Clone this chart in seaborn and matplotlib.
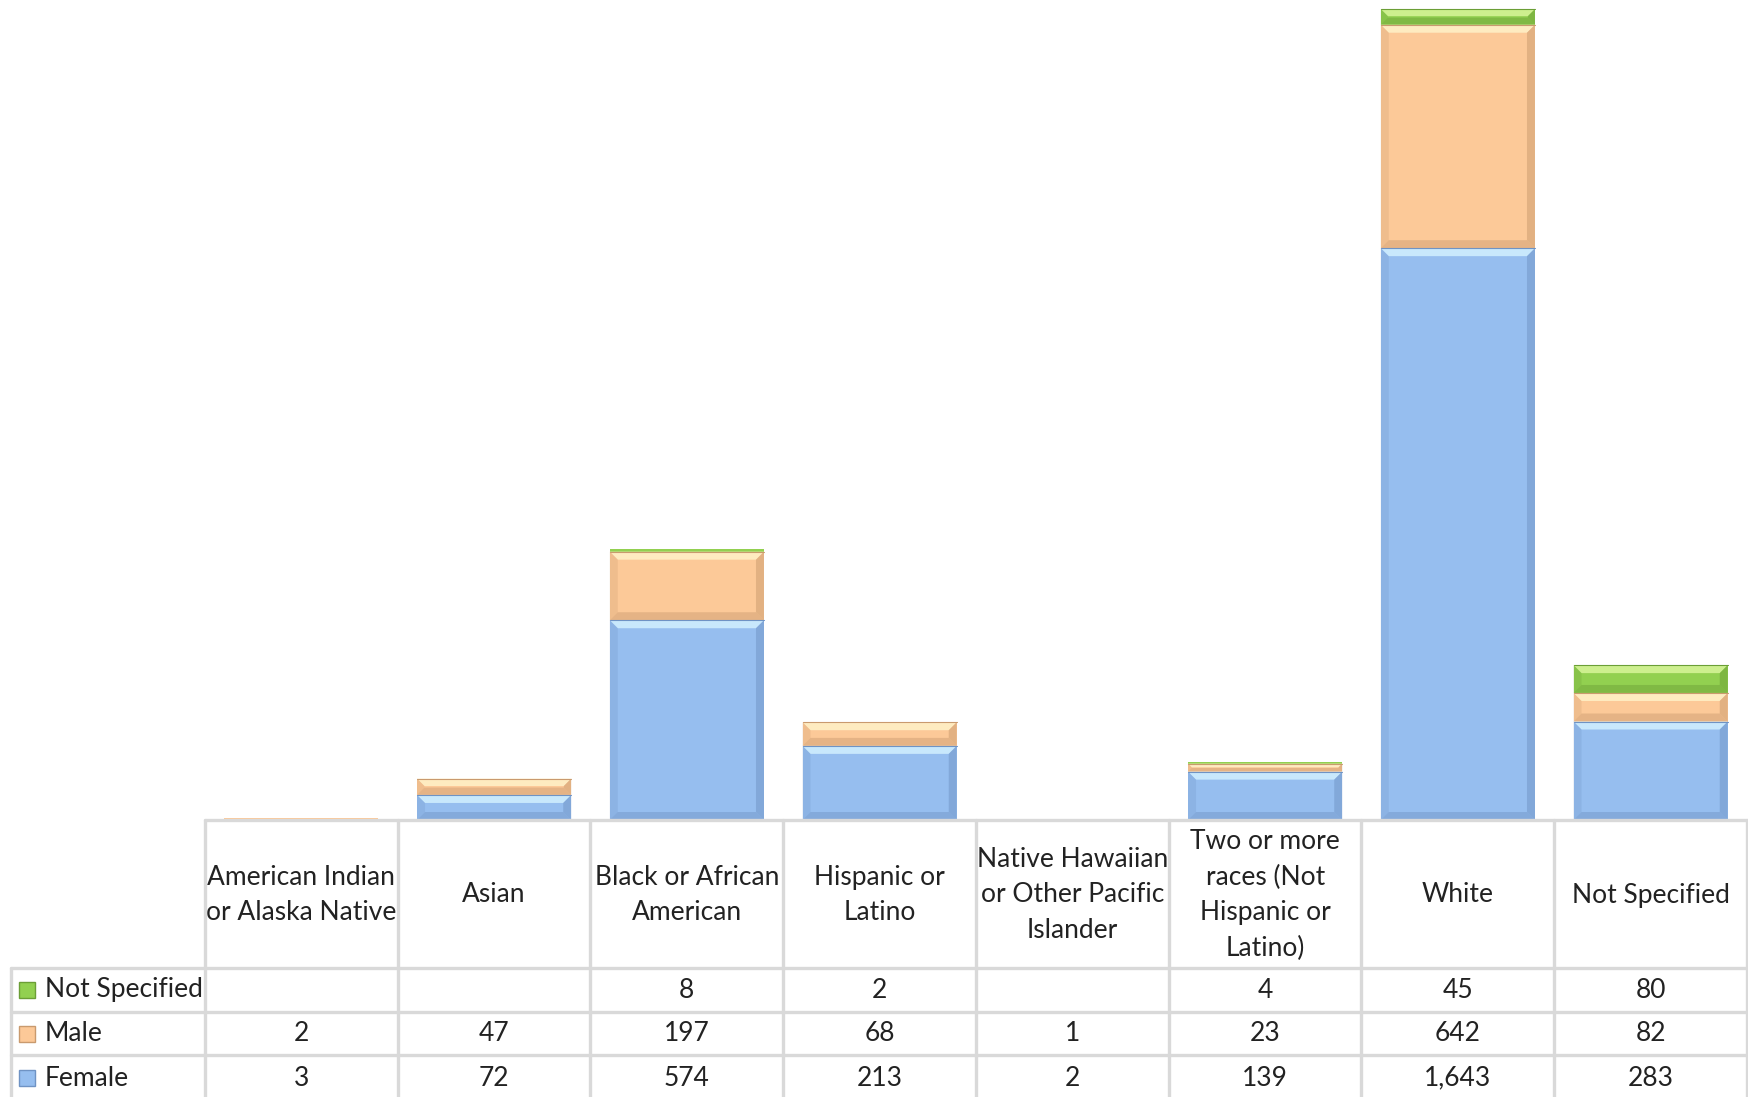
import numpy as np
import pandas as pd
import matplotlib
matplotlib.use("Agg")
import matplotlib.pyplot as plt
from matplotlib.patches import Polygon
import seaborn as sns

# ---- data -------------------------------------------------------------
categories = [
    "American Indian\nor Alaska Native",
    "Asian",
    "Black or African\nAmerican",
    "Hispanic or\nLatino",
    "Native Hawaiian\nor Other Pacific\nIslander",
    "Two or more\nraces (Not\nHispanic or\nLatino)",
    "White",
    "Not Specified",
]
female = [3, 72, 574, 213, 2, 139, 1643, 283]
male = [2, 47, 197, 68, 1, 23, 642, 82]
not_specified = [None, None, 8, 2, None, 4, 45, 80]

series_names = ["Not Specified", "Male", "Female"]
series_colors = {"Female": "#96BEEF", "Male": "#FCC998", "Not Specified": "#92D050"}
highlight = {"Female": "#D2F0FF", "Male": "#FFF2C8", "Not Specified": "#D8F59A"}
shade = {"Female": "#6F93C4", "Male": "#C99A6E", "Not Specified": "#6B9E36"}

# ---- figure -----------------------------------------------------------
W, H = 1749, 1097
sns.set_theme(style="white")
plt.rcParams["font.family"] = ["Lato", "DejaVu Sans"]
fig = plt.figure(figsize=(W / 100, H / 100), dpi=100)
fig.patch.set_facecolor("white")

left_px, right_px, base_px = 205, 1747, 820
ax = fig.add_axes([left_px / W, 1 - base_px / H, (right_px - left_px) / W, base_px / H])

df = pd.DataFrame({
    "category": categories,
    "Female": female,
    "Male": male,
    "Not Specified": [0 if v is None else v for v in not_specified],
})
df["cum_female"] = df["Female"]
df["cum_male"] = df["Female"] + df["Male"]
df["cum_total"] = df["cum_male"] + df["Not Specified"]

bar_w = 0.80
layers = [("cum_total", "Not Specified"), ("cum_male", "Male"), ("cum_female", "Female")]
for col, name in layers:
    sns.barplot(data=df, x="category", y=col, color=series_colors[name],
                width=bar_w, saturation=1, edgecolor="none", linewidth=0,
                ax=ax, zorder=2)

# bevel: light top edge, darker lower and side edges on each segment
lower = {"Not Specified": df["cum_male"].values, "Male": df["cum_female"].values,
         "Female": np.zeros(len(df))}
upper = {"Not Specified": df["cum_total"].values, "Male": df["cum_male"].values,
         "Female": df["cum_female"].values}
ymax = 2356.0
px_per_unit = base_px / ymax
col_px = (right_px - left_px) / len(categories)
for name in series_names:
    for i in range(len(categories)):
        y0, y1 = lower[name][i], upper[name][i]
        seg_px = (y1 - y0) * px_per_unit
        if seg_px < 3:
            continue
        x0, x1 = i - bar_w / 2, i + bar_w / 2
        b_px = min(8, seg_px / 2.2)
        b = b_px / px_per_unit
        bx = b_px / col_px
        ax.add_patch(Polygon([[x0, y1], [x1, y1], [x1 - bx, y1 - b], [x0 + bx, y1 - b]],
                             closed=True, facecolor=highlight[name], edgecolor="none",
                             alpha=0.85, zorder=3))
        ax.add_patch(Polygon([[x0, y0], [x1, y0], [x1 - bx, y0 + b], [x0 + bx, y0 + b]],
                             closed=True, facecolor=shade[name], edgecolor="none",
                             alpha=0.45, zorder=3))
        ax.add_patch(Polygon([[x1, y0], [x1, y1], [x1 - bx, y1 - b], [x1 - bx, y0 + b]],
                             closed=True, facecolor=shade[name], edgecolor="none",
                             alpha=0.5, zorder=3))
        ax.add_patch(Polygon([[x0, y0], [x0, y1], [x0 + bx, y1 - b], [x0 + bx, y0 + b]],
                             closed=True, facecolor=shade[name], edgecolor="none",
                             alpha=0.25, zorder=3))
        ax.plot([x0, x1], [y1, y1], color=shade[name], lw=0.8, zorder=4)

ax.set_xlim(-0.5, len(categories) - 0.5)
ax.set_ylim(0, ymax)
ax.axis("off")

# ---- data table -------------------------------------------------------
def fx(px):
    return px / W

def fy(py):
    return 1 - py / H

grid = "#D9D9D9"
row_edges = [820, 968, 1012, 1055, 1099]
legend_left = 11

def hline(y, x0, x1):
    fig.add_artist(plt.Line2D([fx(x0), fx(x1)], [fy(y), fy(y)], color=grid, lw=2.4,
                              zorder=5))

def vline(x, y0, y1):
    fig.add_artist(plt.Line2D([fx(x), fx(x)], [fy(y0), fy(y1)], color=grid, lw=2.4,
                              zorder=5))

hline(row_edges[0], left_px, right_px)
for y in row_edges[1:]:
    hline(y, legend_left, right_px)
vline(legend_left, row_edges[1], row_edges[-1])
for k in range(len(categories) + 1):
    vline(left_px + k * col_px, row_edges[0], row_edges[-1])

fs = 19
for k, cat in enumerate(categories):
    cx = left_px + (k + 0.5) * col_px
    fig.text(fx(cx), fy((row_edges[0] + row_edges[1]) / 2 + 1), cat, ha="center",
             va="center", fontsize=fs, color="#222222", linespacing=1.52)

rows = [("Not Specified", not_specified), ("Male", male), ("Female", female)]
for r, (name, vals) in enumerate(rows):
    cy = (row_edges[r + 1] + row_edges[r + 2]) / 2
    if r == 2:
        cy = (row_edges[3] + 1097) / 2 + 2
    # legend key
    key = plt.Rectangle((fx(19), fy(cy + 8)), 16 / W, 16 / H, transform=fig.transFigure,
                        facecolor=series_colors[name], edgecolor=shade[name], lw=1)
    fig.add_artist(key)
    fig.text(fx(45), fy(cy), name, ha="left", va="center", fontsize=fs, color="#222222")
    for k, v in enumerate(vals):
        if v is None:
            continue
        cx = left_px + (k + 0.5) * col_px
        fig.text(fx(cx), fy(cy), f"{v:,}", ha="center", va="center", fontsize=fs,
                 color="#222222")

fig.savefig("out.png", dpi=100, facecolor="white")
